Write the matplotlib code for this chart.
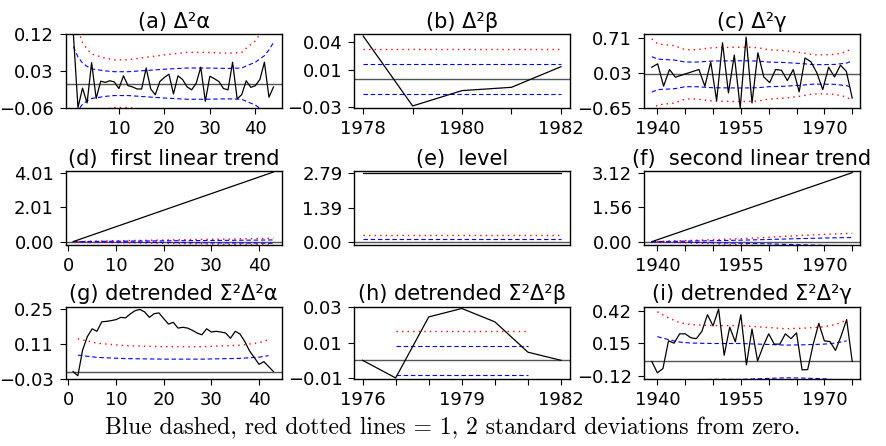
import matplotlib
matplotlib.use("Agg")
import matplotlib.pyplot as plt
import numpy as np

# (a) second differences of alpha
alpha_x = list(range(45))
alpha_d2 = [0.118, -0.058, -0.011, -0.047, 0.051, -0.036, 0.006, 0.003,
            0.007, 0.004, -0.012, 0.019, -0.005, -0.008, -0.013, -0.013,
            0.038, -0.013, -0.027, 0.005, 0.015, 0.023, -0.025, 0.019,
            0.010, -0.008, -0.015, 0.001, 0.040, -0.043, 0.018, 0.012,
            0.005, -0.012, -0.015, 0.052, -0.037, -0.027, 0.007, -0.009,
            -0.005, 0.010, 0.052, -0.033, -0.008]
alpha_sd_x = [0, 1, 2, 3, 4, 7, 9, 12, 16, 20, 25, 29, 34, 37, 38, 40, 41,
              42, 43, 44]
alpha_sd = [0.09, 0.065, 0.05, 0.042, 0.036, 0.031, 0.029, 0.029, 0.032,
            0.035, 0.038, 0.038, 0.037, 0.038, 0.043, 0.052, 0.06, 0.068,
            0.082, 0.1]

# (b) second differences of beta
beta_years = [1978, 1979, 1980, 1981, 1982]
beta_d2 = [0.046, -0.0286, -0.0122, -0.0087, 0.0133]
beta_sd_x = [1978, 1982]
beta_sd = [0.016, 0.016]

# (c) second differences of gamma (35 points spread over 1939-1975)
gamma_years = np.linspace(1939, 1975, 35)
gamma_d2 = [0.14, 0.205, -0.23, 0.095, -0.055, -0.017, 0.02, 0.058, 0.095,
            -0.23, 0.24, -0.51, 0.615, -0.36, 0.375, -0.65, 0.727, -0.556,
            0.42, -0.05, -0.16, 0.095, 0.08, -0.12, 0.095, -0.34, 0.32,
            0.245, 0.03, -0.295, 0.14, -0.05, 0.18, 0.06, -0.46]
gamma_sd_x = [1939, 1940, 1941, 1943, 1945, 1947, 1950, 1955, 1958, 1960,
              1963, 1966, 1968, 1970, 1972, 1974, 1975]
gamma_sd = [0.345, 0.30, 0.29, 0.28, 0.24, 0.24, 0.26, 0.265, 0.26, 0.24,
            0.23, 0.21, 0.19, 0.19, 0.195, 0.22, 0.26]

# (d) first linear trend
trend1_x = [1, 43]
trend1 = [0.0, 4.05]
trend1_sd_x = [1, 10, 20, 30, 40, 43]
trend1_sd = [0.0, 0.025, 0.047, 0.068, 0.09, 0.098]

# (e) level
level_x = [1976, 1982]
level = [2.79, 2.79]
level_sd_x = [1976, 1982]
level_sd = [0.145, 0.145]

# (f) second linear trend
trend2_years = [1939, 1975]
trend2 = [0.0, 3.12]
trend2_sd_x = [1939, 1945, 1950, 1955, 1960, 1965, 1970, 1975]
trend2_sd = [0.0, 0.025, 0.045, 0.068, 0.1, 0.135, 0.165, 0.19]

# (g) detrended cumulated alpha
detr_alpha_x = list(range(1, 44))
detr_alpha = [0.0, -0.017, 0.087, 0.141, 0.172, 0.162, 0.2, 0.202, 0.205,
              0.209, 0.218, 0.216, 0.232, 0.245, 0.25, 0.24, 0.218, 0.233,
              0.236, 0.213, 0.191, 0.198, 0.175, 0.178, 0.175, 0.166, 0.155,
              0.148, 0.172, 0.159, 0.162, 0.159, 0.155, 0.134, 0.162, 0.151,
              0.121, 0.083, 0.056, 0.029, 0.04, 0.02, 0.0]
detr_alpha_sd_x = [2, 6, 12, 20, 28, 36, 40, 42]
detr_alpha_sd = [0.066, 0.057, 0.052, 0.05, 0.05, 0.053, 0.058, 0.064]

# (h) detrended cumulated beta
detr_beta_years = [1976, 1977, 1978, 1979, 1980, 1981, 1982]
detr_beta = [0.0, -0.01, 0.0246, 0.0294, 0.0218, 0.0046, 0.0]
detr_beta_sd_x = [1977, 1981]
detr_beta_sd = [0.0083, 0.0083]

# (i) detrended cumulated gamma
detr_gamma_years = list(range(1939, 1976))
detr_gamma = [0.0, -0.094, -0.059, 0.17, 0.151, 0.228, 0.228, 0.196, 0.188,
              0.249, 0.386, 0.294, 0.433, 0.051, 0.283, 0.162, 0.386, -0.028,
              0.267, 0.004, 0.125, 0.228, 0.143, 0.143, 0.228, 0.188, 0.236,
              -0.07, -0.067, 0.143, 0.315, 0.17, 0.164, 0.091, 0.209, 0.346,
              0.0]
detr_gamma_sd_x = [1940, 1942, 1944, 1946, 1950, 1955, 1960, 1963, 1966,
                   1970, 1972, 1974]
detr_gamma_sd = [0.205, 0.18, 0.16, 0.152, 0.148, 0.148, 0.14, 0.135, 0.137,
                 0.143, 0.152, 0.17]

YEAR_TICKS = [1940, 1945, 1950, 1955, 1960, 1965, 1970, 1975]
YEAR_LABELS = ["1940", "", "", "1955", "", "", "1970", ""]


def draw_panel(ax, p):
    ax.axhline(0, color="#555555", lw=1.0, zorder=1)
    bx = np.array(p["band_x"])
    sd = np.array(p["band_sd"])
    for sign in (1, -1):
        ax.plot(bx, sign * 2 * sd, color="red", lw=1.0, ls=(0, (1, 3)))
        ax.plot(bx, sign * sd, color="blue", lw=0.8, ls=(0, (4, 2.5)))
    ax.plot(p["x"], p["y"], color="black", lw=0.9)

    ax.set_xlim(p["xlim"])
    ax.set_ylim(p["ylim"])
    ax.set_xticks(p["xticks"])
    ax.set_xticklabels(p["xlabels"])
    ax.set_yticks(p["yticks"])
    ax.set_yticklabels(p["ylabels"])
    ax.tick_params(direction="out", length=4, width=0.8, labelsize=13,
                   pad=4.5, colors="black")
    for s in ax.spines.values():
        s.set_linewidth(1.0)
    ax.set_title(p["title"], fontsize=15, pad=4.5)


def main():
    panels = [
        dict(title="(a) Δ²α", x=alpha_x, y=alpha_d2,
             band_x=alpha_sd_x, band_sd=alpha_sd,
             xlim=(-1.7, 45.8), ylim=(-0.06, 0.12),
             xticks=[10, 20, 30, 40], xlabels=["10", "20", "30", "40"],
             yticks=[-0.06, 0.03, 0.12], ylabels=["−0.06", "0.03", "0.12"]),
        dict(title="(b) Δ²β", x=beta_years, y=beta_d2,
             band_x=beta_sd_x, band_sd=beta_sd,
             xlim=(1977.82, 1982.19), ylim=(-0.0311, 0.0479),
             xticks=[1978, 1979, 1980, 1981, 1982],
             xlabels=["1978", "", "1980", "", "1982"],
             yticks=[-0.03, 0.01, 0.04], ylabels=["−0.03", "0.01", "0.04"]),
        dict(title="(c) Δ²γ", x=gamma_years, y=gamma_d2,
             band_x=gamma_sd_x, band_sd=gamma_sd,
             xlim=(1937.6, 1976.4), ylim=(-0.66, 0.78),
             xticks=YEAR_TICKS, xlabels=YEAR_LABELS,
             yticks=[-0.65, 0.03, 0.71], ylabels=["−0.65", "0.03", "0.71"]),
        dict(title="(d)  first linear trend", x=trend1_x, y=trend1,
             band_x=trend1_sd_x, band_sd=trend1_sd,
             xlim=(-0.55, 44.74), ylim=(-0.196, 4.11),
             xticks=[0, 10, 20, 30, 40],
             xlabels=["0", "10", "20", "30", "40"],
             yticks=[0.0, 2.01, 4.01], ylabels=["0.00", "2.01", "4.01"]),
        dict(title="(e)  level", x=level_x, y=level,
             band_x=level_sd_x, band_sd=level_sd,
             xlim=(1975.75, 1982.28), ylim=(-0.107, 2.857),
             xticks=[], xlabels=[],
             yticks=[0.0, 1.39, 2.79], ylabels=["0.00", "1.39", "2.79"]),
        dict(title="(f)  second linear trend", x=trend2_years, y=trend2,
             band_x=trend2_sd_x, band_sd=trend2_sd,
             xlim=(1937.6, 1976.4), ylim=(-0.15, 3.195),
             xticks=YEAR_TICKS, xlabels=YEAR_LABELS,
             yticks=[0.0, 1.56, 3.12], ylabels=["0.00", "1.56", "3.12"]),
        dict(title="(g) detrended Σ²Δ²α", x=detr_alpha_x, y=detr_alpha,
             band_x=detr_alpha_sd_x, band_sd=detr_alpha_sd,
             xlim=(-0.55, 44.74), ylim=(-0.03, 0.261),
             xticks=[0, 10, 20, 30, 40],
             xlabels=["0", "10", "20", "30", "40"],
             yticks=[-0.03, 0.11, 0.25], ylabels=["−0.03", "0.11", "0.25"]),
        dict(title="(h) detrended Σ²Δ²β", x=detr_beta_years, y=detr_beta,
             band_x=detr_beta_sd_x, band_sd=detr_beta_sd,
             xlim=(1975.75, 1982.28), ylim=(-0.0106, 0.0304),
             xticks=[1976, 1977, 1978, 1979, 1980, 1981, 1982],
             xlabels=["1976", "", "", "1979", "", "", "1982"],
             yticks=[-0.01, 0.01, 0.03], ylabels=["−0.01", "0.01", "0.03"]),
        dict(title="(i) detrended Σ²Δ²γ", x=detr_gamma_years, y=detr_gamma,
             band_x=detr_gamma_sd_x, band_sd=detr_gamma_sd,
             xlim=(1937.6, 1976.4), ylim=(-0.145, 0.452),
             xticks=YEAR_TICKS, xlabels=YEAR_LABELS,
             yticks=[-0.12, 0.15, 0.42], ylabels=["−0.12", "0.15", "0.42"]),
    ]

    W, H = 887, 446
    fig = plt.figure(figsize=(W / 100, H / 100), dpi=100)
    lefts = [65.7, 354.3, 644.0]
    rows = [(34.3, 108.3), (171.0, 245.0), (306.7, 379.0)]
    width = 216.0

    for i, p in enumerate(panels):
        top, bottom = rows[i // 3]
        left = lefts[i % 3]
        ax = fig.add_axes([left / W, 1 - bottom / H, width / W,
                           (bottom - top) / H])
        draw_panel(ax, p)

    fig.text(0.51, 1 - 434.3 / H,
             "Blue dashed, red dotted lines = 1, 2 standard deviations "
             "from zero.",
             ha="center", va="baseline", fontsize=17, family="cmr10")

    fig.savefig("out.png", dpi=100)
    plt.close(fig)


if __name__ == "__main__":
    main()
